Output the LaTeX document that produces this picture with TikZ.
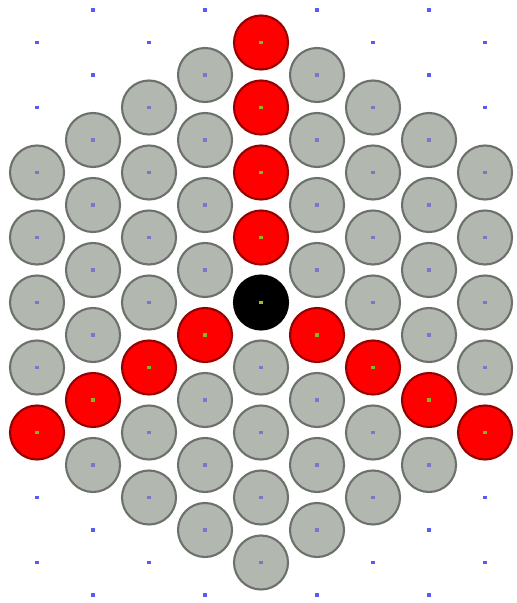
\documentclass[tikz,border=0pt]{standalone}
\usepackage{tikz}
\usetikzlibrary{positioning}

\definecolor{rodgray}{RGB}{178,184,176}
\definecolor{rodedge}{RGB}{108,113,108}
\definecolor{ctrledge}{RGB}{150,0,0}
\definecolor{pinblue}{RGB}{120,120,200}
\definecolor{pingreen}{RGB}{140,180,20}
\definecolor{pinyellow}{RGB}{180,180,30}
\definecolor{dotblue}{RGB}{90,90,245}

\tikzset{
	rod/.style={circle, draw=rodedge, fill=rodgray, line width=1.2pt, minimum size=1.08cm, inner sep=0pt,
		path picture={\fill[#1] ([shift={(-0.9pt,-0.9pt)}]path picture bounding box.center) rectangle ++(1.8pt,1.8pt);}},
	rod/.default=pinblue,
	ctrl/.style={rod=pingreen, draw=ctrledge, fill=red},
	core/.style={rod=pinyellow, draw=black, fill=black},
	gridpt/.style={rectangle, fill=dotblue, minimum size=2.2pt, inner sep=0pt}
}

\begin{document}
\begin{tikzpicture}[x=1.12cm, y=0.65cm]
	\useasboundingbox (-0.661, -0.246) rectangle (8.554, 18.308);
	% Rods:
	\node[ctrl](R4-17) at (4, 17){};
	\node[ctrl](R4-15) at (4, 15){};
	\node[ctrl](R4-13) at (4, 13){};
	\node[ctrl](R4-11) at (4, 11){};
	\node[core](R4-9) at (4, 9){};
	\node[rod](R4-7) at (4, 7){};
	\node[rod](R4-5) at (4, 5){};
	\node[rod](R4-3) at (4, 3){};
	\node[rod](R4-1) at (4, 1){};
	\node[rod](R3-16) at (3, 16){};
	\node[rod](R3-14) at (3, 14){};
	\node[rod](R3-12) at (3, 12){};
	\node[rod](R3-10) at (3, 10){};
	\node[ctrl](R3-8) at (3, 8){};
	\node[rod](R3-6) at (3, 6){};
	\node[rod](R3-4) at (3, 4){};
	\node[rod](R3-2) at (3, 2){};
	\node[rod](R5-16) at (5, 16){};
	\node[rod](R5-14) at (5, 14){};
	\node[rod](R5-12) at (5, 12){};
	\node[rod](R5-10) at (5, 10){};
	\node[ctrl](R5-8) at (5, 8){};
	\node[rod](R5-6) at (5, 6){};
	\node[rod](R5-4) at (5, 4){};
	\node[rod](R5-2) at (5, 2){};
	\node[rod](R2-15) at (2, 15){};
	\node[rod](R2-13) at (2, 13){};
	\node[rod](R2-11) at (2, 11){};
	\node[rod](R2-9) at (2, 9){};
	\node[ctrl](R2-7) at (2, 7){};
	\node[rod](R2-5) at (2, 5){};
	\node[rod](R2-3) at (2, 3){};
	\node[rod](R6-15) at (6, 15){};
	\node[rod](R6-13) at (6, 13){};
	\node[rod](R6-11) at (6, 11){};
	\node[rod](R6-9) at (6, 9){};
	\node[ctrl](R6-7) at (6, 7){};
	\node[rod](R6-5) at (6, 5){};
	\node[rod](R6-3) at (6, 3){};
	\node[rod](R1-14) at (1, 14){};
	\node[rod](R1-12) at (1, 12){};
	\node[rod](R1-10) at (1, 10){};
	\node[rod](R1-8) at (1, 8){};
	\node[ctrl](R1-6) at (1, 6){};
	\node[rod](R1-4) at (1, 4){};
	\node[rod](R7-14) at (7, 14){};
	\node[rod](R7-12) at (7, 12){};
	\node[rod](R7-10) at (7, 10){};
	\node[rod](R7-8) at (7, 8){};
	\node[ctrl](R7-6) at (7, 6){};
	\node[rod](R7-4) at (7, 4){};
	\node[rod](R0-13) at (0, 13){};
	\node[rod](R0-11) at (0, 11){};
	\node[rod](R0-9) at (0, 9){};
	\node[rod](R0-7) at (0, 7){};
	\node[ctrl](R0-5) at (0, 5){};
	\node[rod](R8-13) at (8, 13){};
	\node[rod](R8-11) at (8, 11){};
	\node[rod](R8-9) at (8, 9){};
	\node[rod](R8-7) at (8, 7){};
	\node[ctrl](R8-5) at (8, 5){};
	% Empty grid points:
	\node[gridpt](P0-17) at (0, 17){};
	\node[gridpt](P0-15) at (0, 15){};
	\node[gridpt](P0-3) at (0, 3){};
	\node[gridpt](P0-1) at (0, 1){};
	\node[gridpt](P1-18) at (1, 18){};
	\node[gridpt](P1-16) at (1, 16){};
	\node[gridpt](P1-2) at (1, 2){};
	\node[gridpt](P1-0) at (1, 0){};
	\node[gridpt](P2-17) at (2, 17){};
	\node[gridpt](P2-1) at (2, 1){};
	\node[gridpt](P3-18) at (3, 18){};
	\node[gridpt](P3-0) at (3, 0){};
	\node[gridpt](P5-18) at (5, 18){};
	\node[gridpt](P5-0) at (5, 0){};
	\node[gridpt](P6-17) at (6, 17){};
	\node[gridpt](P6-1) at (6, 1){};
	\node[gridpt](P7-18) at (7, 18){};
	\node[gridpt](P7-16) at (7, 16){};
	\node[gridpt](P7-2) at (7, 2){};
	\node[gridpt](P7-0) at (7, 0){};
	\node[gridpt](P8-17) at (8, 17){};
	\node[gridpt](P8-15) at (8, 15){};
	\node[gridpt](P8-3) at (8, 3){};
	\node[gridpt](P8-1) at (8, 1){};
\end{tikzpicture}
\end{document}
